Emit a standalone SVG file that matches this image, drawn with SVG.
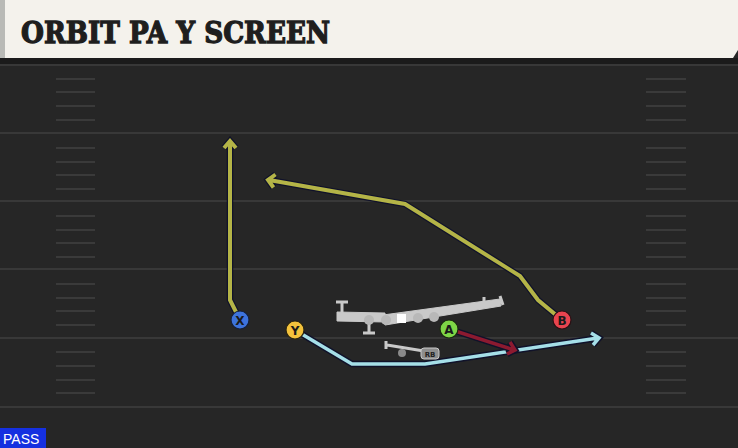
<svg xmlns="http://www.w3.org/2000/svg" width="738" height="448" viewBox="0 0 738 448">
<style>
.yl{stroke:#383838;stroke-width:2;fill:none}
.hm{stroke:#3a3a3a;stroke-width:2;fill:none}
.out{fill:none;stroke:#10122a;stroke-width:6.5;stroke-linejoin:miter;stroke-linecap:butt}
.gold{fill:none;stroke:#b4b447;stroke-width:4;stroke-linejoin:miter}
.blue{fill:none;stroke:#a5dfe8;stroke-width:3.5}
.red{fill:none;stroke:#8c1a30;stroke-width:3.5}
.ol{fill:#c9c9c9;stroke:#c9c9c9}
.lbl{font-family:"DejaVu Sans",sans-serif;font-weight:bold;font-size:12px;fill:#1a1a1a;text-anchor:middle}
</style>
<rect x="0" y="0" width="738" height="448" fill="#262626"/>
<g id="field">
<rect x="0" y="58" width="738" height="6" fill="#1b1b1b"/>
<line class="yl" x1="0" y1="65" x2="738" y2="65"/>
<line class="yl" x1="0" y1="133" x2="738" y2="133"/>
<line class="yl" x1="0" y1="201" x2="738" y2="201"/>
<line class="yl" x1="0" y1="269" x2="738" y2="269"/>
<line class="yl" x1="0" y1="338" x2="738" y2="338"/>
<line class="yl" x1="0" y1="407" x2="738" y2="407"/>
<g class="hm">
<path d="M56 79H95M56 92H95M56 106H95M56 120H95M56 148H95M56 162H95M56 175H95M56 189H95M56 216H95M56 230H95M56 243H95M56 257H95M56 284H95M56 298H95M56 311H95M56 325H95M56 352H95M56 366H95M56 380H95M56 393H95"/>
<path d="M646 79H686M646 92H686M646 106H686M646 120H686M646 148H686M646 162H686M646 175H686M646 189H686M646 216H686M646 230H686M646 243H686M646 257H686M646 284H686M646 298H686M646 311H686M646 325H686M646 352H686M646 366H686M646 380H686M646 393H686"/>
</g>
</g>
<g id="header">
<path d="M0 0H738V50L733 58H0Z" fill="#f4f2ec"/>
<rect x="0" y="0" width="5" height="58" fill="#b9bab6"/>
<text x="21" y="43" font-family="'DejaVu Serif', serif" font-weight="bold" font-size="29" textLength="309" lengthAdjust="spacingAndGlyphs" fill="#1e1e1e" stroke="#1e1e1e" stroke-width="1.3" stroke-linejoin="miter">ORBIT PA Y SCREEN</text>
</g>
<g id="connectors">
<g id="route-x">
<path class="out" d="M240 320L230 300V142M224 148L230 141L236 148"/>
<path class="gold" d="M240 320L230 300V142M224 148L230 141L236 148"/>
</g>
<g id="route-b">
<path class="out" d="M562 320L538 300L520 276L405 204L269 180M275.5 174.5L268 180L273.5 187.5"/>
<path class="gold" d="M562 320L538 300L520 276L405 204L269 180M275.5 174.5L268 180L273.5 187.5"/>
</g>
<g id="route-y">
<path class="out" d="M295 330L352 364H425L598 338M591 333L599 338L593 345"/>
<path class="blue" d="M295 330L352 364H425L598 338M591 333L599 338L593 345"/>
</g>
<g id="route-a">
<path class="out" d="M449 329L514 350M510 342L515 350L507 354"/>
<path class="red" d="M449 329L514 350M510 342L515 350L507 354"/>
</g>
</g>
<g id="line">
<path class="ol" d="M342 302V313M336 302H348M369 322V333M363 333H375" stroke-width="3" fill="none"/>
<path class="ol" d="M337 312L385 313L385 322L337 321Z"/>
<path class="ol" d="M383 315L500 299L501 306L385 325Z"/>
<path class="ol" d="M484 297V308M500 296L503 305" stroke-width="3" fill="none"/>
<circle cx="369" cy="320" r="5" fill="#b8b8b8"/>
<circle cx="386" cy="320" r="5" fill="#b8b8b8"/>
<circle cx="418" cy="318" r="5" fill="#b8b8b8"/>
<circle cx="434" cy="317" r="5" fill="#b8b8b8"/>
<rect x="397" y="314" width="9" height="9" fill="#ffffff"/>
</g>
<g id="rb">
<path class="ol" d="M386 341V349M387 345L430 352" stroke-width="3" fill="none"/>
<circle cx="402" cy="353" r="4" fill="#8a8a8a"/>
<rect x="421" y="348" width="18" height="11" rx="3" fill="#8e8e8e" stroke="#c9c9c9"/>
<text x="430" y="357" font-family="'DejaVu Sans',sans-serif" font-weight="bold" font-size="7" fill="#222" text-anchor="middle">RB</text>
</g>
<g id="node-x">
<circle cx="240" cy="320" r="9" fill="#3d73dc" stroke="#15203a" stroke-width="1.2"/>
<text class="lbl" x="240" y="324.5">X</text>
</g>
<g id="node-y">
<circle cx="295" cy="330" r="9" fill="#f3c23c" stroke="#2a2410" stroke-width="1.2"/>
<text class="lbl" x="295" y="334.5">Y</text>
</g>
<g id="node-a">
<circle cx="449" cy="329" r="9" fill="#7ed646" stroke="#1a2a10" stroke-width="1.2"/>
<text class="lbl" x="449" y="333.5">A</text>
</g>
<g id="node-b">
<circle cx="562" cy="320" r="9" fill="#e8444f" stroke="#2a1014" stroke-width="1.2"/>
<text class="lbl" x="562" y="324.5">B</text>
</g>
<g id="pass">
<rect x="0" y="428" width="46" height="20" fill="#1530e0"/>
<text x="3" y="444" font-family="'Liberation Sans',sans-serif" font-size="14" fill="#ffffff">PASS</text>
</g>
</svg>
